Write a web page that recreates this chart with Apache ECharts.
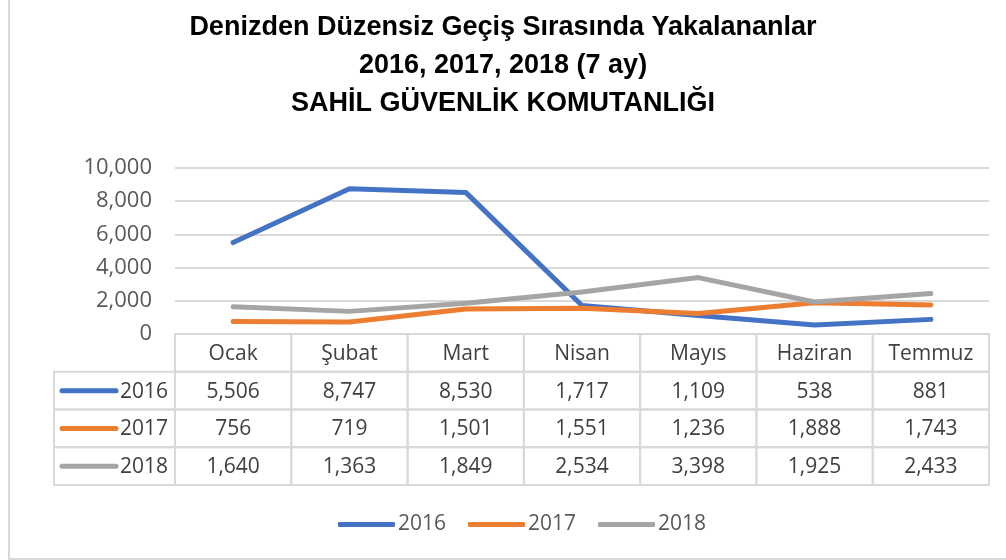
<!DOCTYPE html>
<html>
<head>
<meta charset="utf-8">
<script src="https://cdn.jsdelivr.net/npm/echarts@6/dist/echarts.min.js"></script>
<style>
    html, body { margin: 0; padding: 0; background: #fff; }
    #chart { width: 1006px; height: 560px; }
</style>
</head>
<body>
<div id="chart"></div>
<script>
// chart data
const months = ['Ocak', 'Şubat', 'Mart', 'Nisan', 'Mayıs', 'Haziran', 'Temmuz'];
const years = ['2016', '2017', '2018'];
const values2016 = [5506, 8747, 8530, 1717, 1109, 538, 881];
const values2017 = [756, 719, 1501, 1551, 1236, 1888, 1743];
const values2018 = [1640, 1363, 1849, 2534, 3398, 1925, 2433];
const yearValues = [values2016, values2017, values2018];

const colors = ['#4472C4', '#ED7D31', '#A5A5A5'];
const gridColor = '#d9d9d9';
const textFont = '"Open Sans", "Noto Sans", sans-serif';
const keyColWidth = 121;

const fmt = (v) => Number(v).toLocaleString('en-US');

// cells of the data table below the plot (row 0 = month names)
const tableCells = [];
months.forEach((m, i) => tableCells.push({ col: i, row: 0, text: m }));
yearValues.forEach((vals, s) => {
    tableCells.push({ col: 0, row: s + 1, text: years[s], key: true, s: s });
    vals.forEach((v, i) => tableCells.push({ col: i, row: s + 1, text: fmt(v) }));
});

const chart = echarts.init(document.getElementById('chart'));

chart.setOption({
    animation: false,
    color: colors,
    title: {
        text: 'Denizden Düzensiz Geçiş Sırasında Yakalananlar\n2016, 2017, 2018 (7 ay)\nSAHİL GÜVENLİK KOMUTANLIĞI',
        left: 'center',
        top: 4,
        textStyle: {
            fontFamily: '"Liberation Sans Narrow", "Liberation Sans", sans-serif',
            fontWeight: 'bold',
            fontSize: 27,
            lineHeight: 38,
            color: '#000'
        }
    },
    legend: {
        data: years,
        top: 509,
        left: 333,
        icon: 'roundRect',
        itemWidth: 57,
        itemHeight: 5,
        itemGap: 22,
        textStyle: {
            fontFamily: textFont,
            fontSize: 21,
            color: '#595959',
            padding: [0, 0, 0, -2]
        }
    },
    grid: [
        { left: 175, right: 17, top: 168, height: 166, containLabel: false },
        { left: 175, right: 17, top: 334, height: 151, containLabel: false }
    ],
    xAxis: [
        {
            type: 'category',
            gridIndex: 0,
            data: months,
            boundaryGap: true,
            axisLine: { show: false },
            axisTick: { show: false },
            axisLabel: { show: false }
        },
        {
            type: 'category',
            gridIndex: 1,
            data: months,
            boundaryGap: true,
            show: false
        }
    ],
    yAxis: [
        {
            type: 'value',
            gridIndex: 0,
            min: 0,
            max: 10000,
            interval: 2000,
            axisLine: { show: false },
            axisTick: { show: false },
            splitLine: { lineStyle: { color: gridColor, width: 2 } },
            axisLabel: {
                margin: 23,
                fontFamily: textFont,
                fontSize: 22,
                color: '#595959',
                formatter: fmt
            }
        },
        {
            type: 'category',
            gridIndex: 1,
            data: [''].concat(years),
            inverse: true,
            show: false
        }
    ],
    series: years.map((y, s) => ({
        name: y,
        type: 'line',
        xAxisIndex: 0,
        yAxisIndex: 0,
        data: yearValues[s],
        symbol: 'none',
        lineStyle: { width: 5, cap: 'round', join: 'round' }
    })).concat([{
        type: 'custom',
        xAxisIndex: 1,
        yAxisIndex: 1,
        silent: true,
        data: tableCells.map(c => [c.col, c.row]),
        renderItem(params, api) {
            const cell = tableCells[params.dataIndex];
            const p = api.coord([cell.col, cell.row]);
            const size = api.size([1, 1]);
            const w = size[0];
            const h = size[1];
            if (cell.key) {
                const x0 = p[0] - w / 2 - keyColWidth;
                return {
                    type: 'group',
                    children: [
                        {
                            type: 'rect',
                            shape: { x: x0, y: p[1] - h / 2, width: keyColWidth, height: h },
                            style: { fill: 'none', stroke: gridColor, lineWidth: 2 }
                        },
                        {
                            type: 'line',
                            shape: { x1: x0 + 8, y1: p[1], x2: x0 + 62, y2: p[1] },
                            style: { stroke: colors[cell.s], lineWidth: 5, lineCap: 'round' }
                        },
                        {
                            type: 'text',
                            style: {
                                x: x0 + 66, y: p[1] + 1, text: cell.text,
                                align: 'left', verticalAlign: 'middle',
                                fontFamily: textFont, fontSize: 21, fill: '#404040'
                            }
                        }
                    ]
                };
            }
            return {
                type: 'group',
                children: [
                    {
                        type: 'rect',
                        shape: { x: p[0] - w / 2, y: p[1] - h / 2, width: w, height: h },
                        style: { fill: 'none', stroke: gridColor, lineWidth: 2 }
                    },
                    {
                        type: 'text',
                        style: {
                            x: p[0], y: p[1] + 1, text: cell.text,
                            align: 'center', verticalAlign: 'middle',
                            fontFamily: textFont, fontSize: 21, fill: '#404040'
                        }
                    }
                ]
            };
        }
    }]),
    graphic: [{
        type: 'rect',
        shape: { x: 9, y: -10, width: 1100, height: 569 },
        style: { fill: 'none', stroke: gridColor, lineWidth: 2 },
        silent: true
    }]
});
</script>
</body>
</html>
